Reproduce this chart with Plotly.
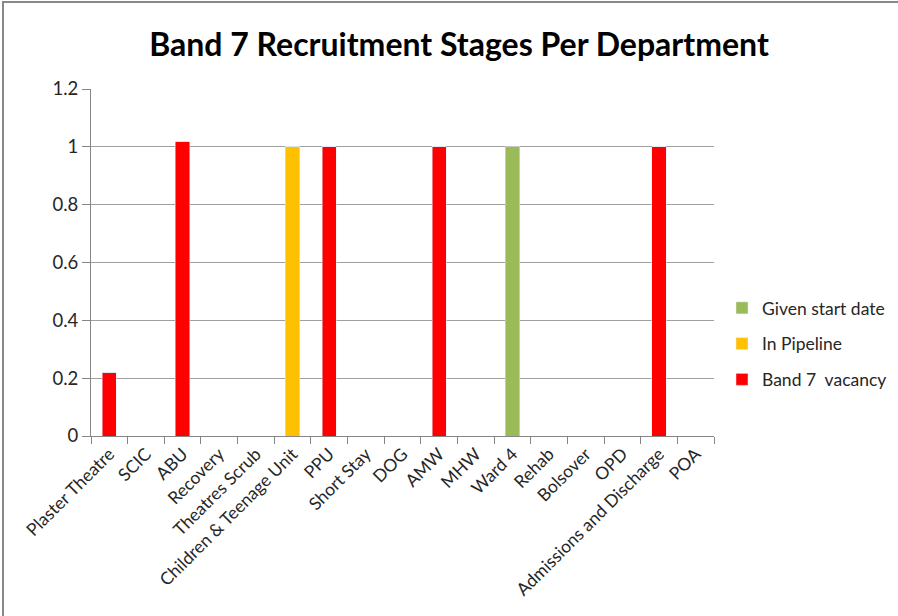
import plotly.graph_objects as go

categories = ["Plaster Theatre", "SCIC", "ABU", "Recovery", "Theatres Scrub",
              "Children & Teenage Unit", "PPU", "Short Stay", "DOG", "AMW", "MHW",
              "Ward 4", "Rehab", "Bolsover", "OPD", "Admissions and Discharge", "POA"]
vacancy = [0.22, 0, 1.02, 0, 0, 0, 1, 0, 0, 1, 0, 0, 0, 0, 0, 1, 0]
pipeline = [0, 0, 0, 0, 0, 1, 0, 0, 0, 0, 0, 0, 0, 0, 0, 0, 0]
started = [0, 0, 0, 0, 0, 0, 0, 0, 0, 0, 0, 1, 0, 0, 0, 0, 0]
yticks = [0, 0.2, 0.4, 0.6, 0.8, 1, 1.2]
ytick_text = ["0", "0.2", "0.4", "0.6", "0.8", "1", "1.2"]

FONT = "Lato"
W, H = 898, 616
L, R, T, B = 91, 184, 89, 180
pw, ph = W - L - R, H - T - B

fig = go.Figure()
fig.add_bar(x=categories, y=vacancy, name="Band 7  vacancy", marker_color="#FF0000",
            legendgroup="a", legendrank=3)
fig.add_bar(x=categories, y=pipeline, name="In Pipeline", marker_color="#FFC000",
            legendgroup="b", legendrank=2)
fig.add_bar(x=categories, y=started, name="Given start date", marker_color="#9BBB59",
            legendgroup="c", legendrank=1)

fig.update_layout(
    width=W, height=H,
    margin=dict(l=L, r=R, t=T, b=B, autoexpand=False),
    barmode="stack", bargap=0.61,
    plot_bgcolor="white", paper_bgcolor="white",
    title=dict(text="<b>Band 7 Recruitment Stages Per Department</b>",
               x=(459 - L) / pw, xref="paper", xanchor="center",
               y=1 - 45 / H, yanchor="middle",
               font=dict(family=FONT, size=32, color="black")),
    font=dict(family=FONT, size=18, color="#262626"),
    legend=dict(x=(722 - L) / pw, xanchor="left", y=(436 - 344) / ph, yanchor="middle",
                traceorder="grouped", tracegroupgap=10,
                font=dict(family=FONT, size=17.5, color="#262626")),
    xaxis=dict(type="category", tickangle=-45, ticks="outside", tickson="boundaries",
               ticklen=7, tickcolor="#868686", showline=True, linecolor="#868686",
               showgrid=False, tickfont=dict(family=FONT, size=17.5, color="#262626")),
    yaxis=dict(range=[0, 1.2], tickvals=yticks, ticktext=ytick_text,
               showgrid=True, gridcolor="#A0A0A0", showline=True, linecolor="#868686",
               ticks="outside", ticklen=8, tickcolor="#868686", zeroline=False,
               tickfont=dict(family=FONT, size=18.5, color="#262626")),
    shapes=[dict(type="rect", xref="paper", yref="paper",
                 x0=(3 - L) / pw, x1=(W + 5 - L) / pw,
                 y0=-(H + 5 - T - ph) / ph,
                 y1=(H - 2 - B) / ph,
                 line=dict(color="#888888", width=2), fillcolor="rgba(0,0,0,0)", layer="below")],
)

fig.write_html("out.html")
